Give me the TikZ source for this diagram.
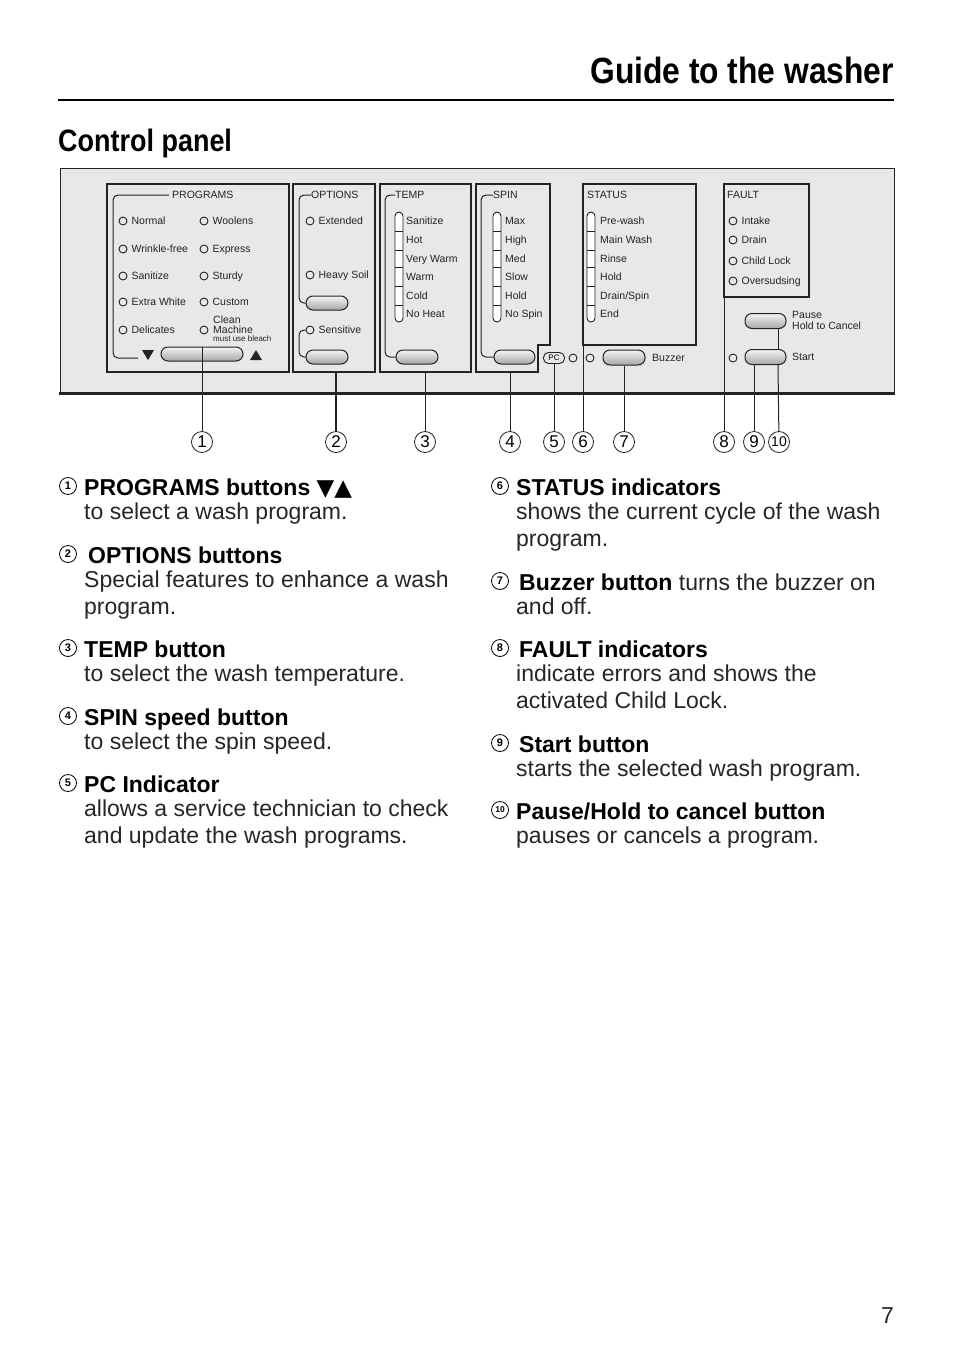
\documentclass[tikz,border=0pt]{standalone}
\usepackage{fontspec}
\setmainfont{Liberation Sans}
\newfontfamily\condfont[FakeStretch=0.87]{Liberation Sans}
\newfontfamily\symfont{DejaVu Sans}
\usetikzlibrary{positioning, calc}
\definecolor{panelGray}{RGB}{232, 232, 232}
\definecolor{lineDark}{RGB}{35, 35, 35}
\definecolor{textBody}{RGB}{38, 38, 38}

\begin{document}
\begin{tikzpicture}[
    x=1pt, y=-1pt,
    ptext/.style={
        font=\fontsize{10.5}{11}\selectfont,
        inner sep=0pt,
        text height=7.4pt,
        text depth=0pt,
        anchor=west,
        text=lineDark
    },
    ptitle/.style={ptext},
    lamp/.style={
        circle,
        draw=lineDark,
        line width=0.9pt,
        minimum size=8pt,
        inner sep=0pt
    },
    btn/.style={
        rectangle,
        rounded corners=7pt,
        draw=lineDark,
        line width=1pt,
        top color=gray!8,
        bottom color=gray!70,
        minimum height=14pt,
        minimum width=42pt,
        inner sep=0pt
    },
    bracket/.style={
        draw=lineDark,
        line width=1pt,
        rounded corners=5pt
    },
    panelbox/.style={
        draw=lineDark,
        line width=1.5pt
    },
    lampbar/.style={
        draw=lineDark,
        line width=0.9pt,
        fill=white,
        rounded corners=4pt
    },
    callout/.style={
        circle,
        draw=lineDark,
        line width=0.8pt,
        minimum size=21pt,
        inner sep=0pt,
        font=\fontsize{17}{17}\selectfont
    },
    leader/.style={
        draw=lineDark,
        line width=1pt
    },
    badge/.style={
        circle,
        draw=black,
        line width=0.8pt,
        minimum size=17pt,
        inner sep=0pt,
        font=\fontsize{11}{11}\selectfont\bfseries
    },
    headtxt/.style={
        font=\fontsize{23}{27}\selectfont\bfseries,
        anchor=base west,
        inner sep=0pt,
        text=black
    },
    bodytxt/.style={
        font=\fontsize{23}{27}\selectfont,
        anchor=base west,
        inner sep=0pt,
        text=textBody
    }
]

\fill[white] (0,0) rectangle (954,1352);
\useasboundingbox (0,0) rectangle (954,1352);

% Page heading
\node[font=\condfont\fontsize{36.5}{40}\selectfont\bfseries, anchor=base east, inner sep=0pt] (pagetitle) at (894,83) {Guide to the washer};
\draw[line width=2pt] (58,100) -- (894,100);
\node[font=\condfont\fontsize{31}{34}\selectfont\bfseries, anchor=base west, inner sep=0pt] (sectitle) at (58,151) {Control panel};

% Panel
\draw[fill=panelGray, draw=lineDark, line width=1pt] (60,168) rectangle (894,393);
\draw[lineDark, line width=3pt] (59,393) -- (895,393);

% Boxes
\draw[panelbox] (107,184) rectangle (289,372);
\draw[panelbox] (293,184) rectangle (375,372);
\draw[panelbox] (380,184) rectangle (471,372);
\draw[panelbox] (476,184) -- (550,184) -- (550,345) -- (538,345) -- (538,372) -- (476,372) -- cycle;
\draw[panelbox] (583,184) rectangle (696,345);
\draw[panelbox] (724,184) rectangle (809,297);

% Buttons
\node[btn, minimum width=82pt] (btnprog) at (202,354) {};
\node[btn] (btnopt1) at (327,303) {};
\node[btn] (btnopt2) at (327,357) {};
\node[btn] (btntemp) at (417,357) {};
\node[btn, minimum width=41pt] (btnspin) at (514.5,357) {};
\node[btn, minimum height=15pt] (btnbuzz) at (624,357.5) {};
\node[btn, minimum height=15pt, minimum width=41pt] (btnpause) at (765.5,321) {};
\node[btn, minimum height=15pt, minimum width=41pt] (btnstart) at (765.5,357) {};

% PROGRAMS
\node[ptitle] (progtitle) at (172,195) {PROGRAMS};
\draw[bracket] ([xshift=-3pt]progtitle.west) -- (113,195) -- (113,358) -- (138,358);
\fill[lineDark] (142,350) -- (154,350) -- (148,360) -- cycle;
\fill[lineDark] (250,360) -- (262,360) -- (256,350) -- cycle;
\foreach \y/\t [count=\i] in {221/Normal, 249/Wrinkle-free, 276/Sanitize, 302/Extra White, 330/Delicates} {
    \node[lamp] (pl\i) at (123,\y) {};
    \node[ptext, right=4pt of pl\i] (plt\i) {\t};
}
\foreach \y/\t [count=\i] in {221/Woolens, 249/Express, 276/Sturdy, 302/Custom} {
    \node[lamp] (pr\i) at (204,\y) {};
    \node[ptext, right=4pt of pr\i] (prt\i) {\t};
}
\node[lamp] (pr5) at (204,330) {};
\node[ptext] (prclean) at (213,320) {Clean};
\node[ptext] (prmach) at (213,330) {Machine};
\node[ptext, font=\fontsize{8}{8}\selectfont, text height=5.7pt] (prbleach) at (213,339) {must use bleach};

% OPTIONS
\node[ptitle] (opttitle) at (311,195) {OPTIONS};
\node[lamp] (ol1) at (310,221) {};
\node[ptext, right=4pt of ol1] (olt1) {Extended};
\node[lamp] (ol2) at (310,275) {};
\node[ptext, right=4pt of ol2] (olt2) {Heavy Soil};
\node[lamp] (ol3) at (310,330) {};
\node[ptext, right=4pt of ol3] (olt3) {Sensitive};
\draw[bracket] (opttitle.west) -- (299,195) -- (299,303) -- (btnopt1.west);
\draw[bracket] (ol3.west) -- (299,330) -- (299,357) -- (btnopt2.west);

% TEMP, SPIN, STATUS
\node[ptitle] (temptitle) at (395,195) {TEMP};
\draw[bracket] (temptitle.west) -- (385,195) -- (385,357) -- (btntemp.west);
\node[ptitle] (spintitle) at (493,195) {SPIN};
\draw[bracket] (spintitle.west) -- (481,195) -- (481,357) -- (btnspin.west);
\node[ptitle] (stattitle) at (587,195) {STATUS};

\foreach \bx in {395,493,587} {
    \draw[lampbar] (\bx,212) rectangle (\bx+8,322);
    \foreach \dy in {231,250,267,286,305}
        \draw[lineDark, line width=0.9pt] (\bx,\dy) -- (\bx+8,\dy);
}
\foreach \y/\t [count=\i] in {221/Sanitize, 240/Hot, 258.5/Very Warm, 277/Warm, 295.5/Cold, 314/No Heat}
    \node[ptext] (tl\i) at (406,\y) {\t};
\foreach \y/\t [count=\i] in {221/Max, 240/High, 258.5/Med, 277/Slow, 295.5/Hold, 314/No Spin}
    \node[ptext] (sl\i) at (505,\y) {\t};
\foreach \y/\t [count=\i] in {221/Pre-wash, 240/Main Wash, 258.5/Rinse, 277/Hold, 295.5/{Drain/Spin}, 314/End}
    \node[ptext] (stl\i) at (600,\y) {\t};

% PC and buzzer row
\node[draw=lineDark, line width=0.9pt, rounded corners=5pt, minimum width=21pt, minimum height=11pt, inner sep=0pt, font=\fontsize{8}{8}\selectfont] (pcbadge) at (554,358) {PC};
\node[lamp] (bzl1) at (573,358) {};
\node[lamp] (bzl2) at (590,358) {};
\node[ptext] (bztext) at (652,358) {Buzzer};

% FAULT
\node[ptitle] (faulttitle) at (727,195) {FAULT};
\foreach \y/\t [count=\i] in {221/Intake, 240/Drain, 261/Child Lock, 281/Oversudsing} {
    \node[lamp] (fl\i) at (733,\y) {};
    \node[ptext, right=4pt of fl\i] (flt\i) {\t};
}
\node[ptext] (pausetxt) at (792,315) {Pause};
\node[ptext] (holdtxt) at (792,326) {Hold to Cancel};
\node[lamp] (startlamp) at (733,358) {};
\node[ptext] (starttxt) at (792,357) {Start};

% Callouts
\foreach \n/\x in {1/202, 2/336, 3/425, 4/510, 5/554, 6/583, 7/624, 8/724, 9/754}
    \node[callout] (c\n) at (\x,442) {\n};
\node[callout, font=\fontsize{14}{14}\selectfont] (c10) at (779,442) {10};

% Leaders
\coordinate (optfoot) at (336,372);
\coordinate (tempfoot) at (425,372);
\coordinate (spinfoot) at (510,372);
\coordinate (statfoot) at (583,345);
\coordinate (faultfoot) at (724,297);
\draw[leader] (btnprog.north) -- (c1);
\draw[leader, line width=1.6pt] (optfoot) -- (c2);
\draw[leader] (tempfoot) -- (c3);
\draw[leader] (spinfoot) -- (c4);
\draw[leader] (pcbadge.south) -- (c5);
\draw[leader] (statfoot) -- (c6);
\draw[leader] (btnbuzz.south) -- (c7);
\draw[leader] (faultfoot) -- (c8);
\draw[leader] ([xshift=-11.5pt]btnstart.south) -- (c9);
\draw[leader] ([xshift=12.5pt]btnpause.south) -- ([xshift=12.5pt]btnstart.north);
\draw[leader] ([xshift=12.5pt]btnstart.south) -- (c10);

% Key, left column
\node[badge] (n1) at (68,486) {1};
\node[headtxt] (h1) at (84,495) {PROGRAMS buttons {\symfont ▼▲}};
\node[bodytxt] (b1) at (84,519) {to select a wash program.};

\node[badge] (n2) at (68,554) {2};
\node[headtxt] (h2) at (88,563) {OPTIONS buttons};
\node[bodytxt] (b2a) at (84,587) {Special features to enhance a wash};
\node[bodytxt] (b2b) at (84,614) {program.};

\node[badge] (n3) at (68,648) {3};
\node[headtxt] (h3) at (84,657) {TEMP button};
\node[bodytxt] (b3) at (84,681) {to select the wash temperature.};

\node[badge] (n4) at (68,716) {4};
\node[headtxt] (h4) at (84,725) {SPIN speed button};
\node[bodytxt] (b4) at (84,749) {to select the spin speed.};

\node[badge] (n5) at (68,783) {5};
\node[headtxt] (h5) at (84,792) {PC Indicator};
\node[bodytxt] (b5a) at (84,816) {allows a service technician to check};
\node[bodytxt] (b5b) at (84,843) {and update the wash programs.};

% Key, right column
\node[badge] (n6) at (500,486) {6};
\node[headtxt] (h6) at (516,495) {STATUS indicators};
\node[bodytxt] (b6a) at (516,519) {shows the current cycle of the wash};
\node[bodytxt] (b6b) at (516,546) {program.};

\node[badge] (n7) at (500,581) {7};
\node[bodytxt] (h7) at (519,590) {{\bfseries\color{black}Buzzer button} turns the buzzer on};
\node[bodytxt] (b7) at (516,614) {and off.};

\node[badge] (n8) at (500,648) {8};
\node[headtxt] (h8) at (519,657) {FAULT indicators};
\node[bodytxt] (b8a) at (516,681) {indicate errors and shows the};
\node[bodytxt] (b8b) at (516,708) {activated Child Lock.};

\node[badge] (n9) at (500,743) {9};
\node[headtxt] (h9) at (519,752) {Start button};
\node[bodytxt] (b9) at (516,776) {starts the selected wash program.};

\node[badge, font=\fontsize{8.5}{8.5}\selectfont\bfseries] (n10) at (500,810) {10};
\node[headtxt] (h10) at (516,819) {Pause/Hold to cancel button};
\node[bodytxt] (b10) at (516,843) {pauses or cancels a program.};

% Page number
\node[bodytxt, anchor=base east] (pageno) at (894,1323) {7};

\end{tikzpicture}
\end{document}
